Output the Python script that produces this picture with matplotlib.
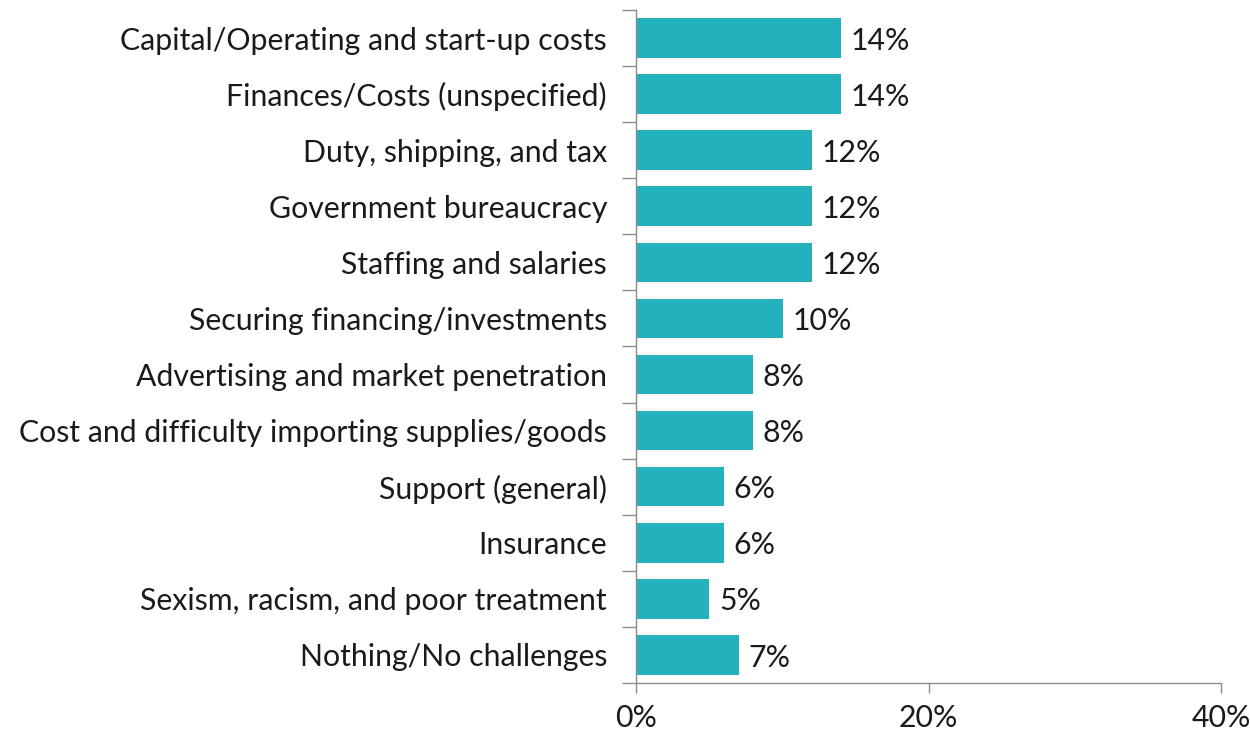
import numpy as np
import matplotlib.pyplot as plt
from matplotlib.ticker import FixedLocator, PercentFormatter

# Data
categories = [
    "Capital/Operating and start-up costs",
    "Finances/Costs (unspecified)",
    "Duty, shipping, and tax",
    "Government bureaucracy",
    "Staffing and salaries",
    "Securing financing/investments",
    "Advertising and market penetration",
    "Cost and difficulty importing supplies/goods",
    "Support (general)",
    "Insurance",
    "Sexism, racism, and poor treatment",
    "Nothing/No challenges",
]
values = [14, 14, 12, 12, 12, 10, 8, 8, 6, 6, 5, 7]
x_ticks = [0, 20, 40]

plt.rcParams['font.family'] = ['Lato', 'DejaVu Sans']
bar_color = '#23B1BD'
axis_color = '#8C8C8C'
fs = 21.8

fig = plt.figure(figsize=(12.5, 7.31), dpi=100)
ax = fig.add_axes([0.509, 0.066, 0.468, 0.920])

y = np.arange(len(categories))
bars = ax.barh(y, values, height=0.71, color=bar_color)
texts = ax.bar_label(bars, labels=[f"{v}%" for v in values], padding=7, fontsize=fs, color='#1a1a1a')
for t in texts:
    t.xyann = (7, -2)  # nudge labels a touch lower, like the original

ax.set_xlim(0, 40)
ax.set_ylim(len(categories) - 0.5, -0.5)
ax.set_yticks(y)
ax.set_yticklabels(categories, fontsize=fs, color='#1a1a1a')
ax.yaxis.set_minor_locator(FixedLocator(np.arange(-0.5, len(categories), 1.0)))
ax.tick_params(axis='y', which='major', length=0, pad=21)
ax.tick_params(axis='y', which='minor', length=10, color=axis_color, width=1)

ax.set_xticks(x_ticks)
ax.xaxis.set_major_formatter(PercentFormatter(decimals=0))
ax.tick_params(axis='x', length=7, color=axis_color, width=1, labelsize=fs, pad=8, labelcolor='#1a1a1a')

for s in ['top', 'right']:
    ax.spines[s].set_visible(False)
for s in ['left', 'bottom']:
    ax.spines[s].set_color(axis_color)
    ax.spines[s].set_linewidth(1)

fig.savefig('out.png', dpi=100)
